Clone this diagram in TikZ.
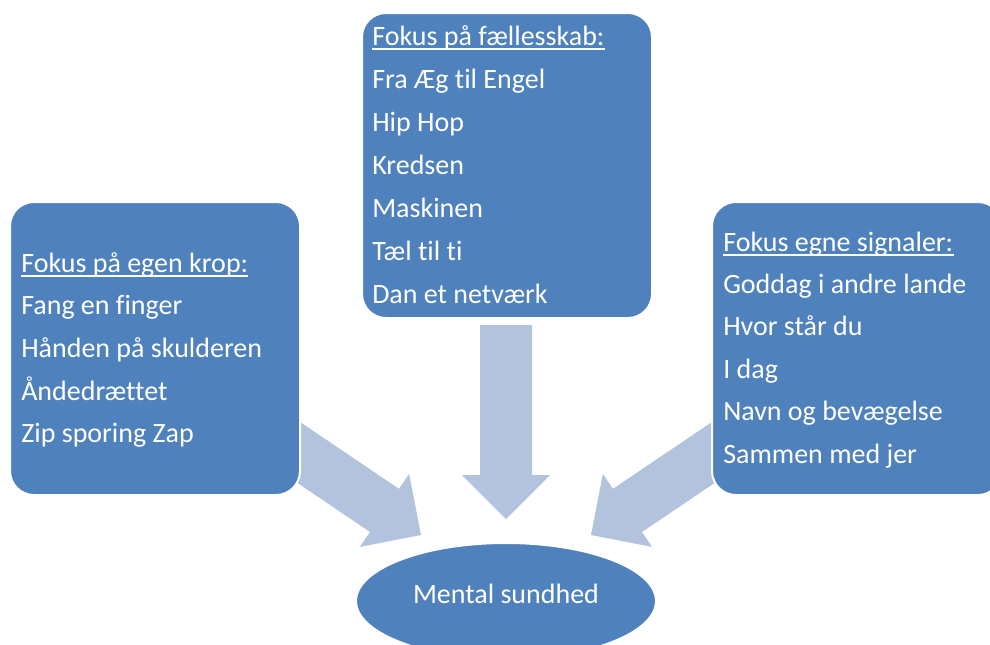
\documentclass[tikz,border=0pt]{standalone}
\usepackage{fontspec}
\setmainfont{Carlito}[Ligatures=NoCommon]
\usetikzlibrary{calc,shapes.geometric}
\definecolor{BoxBlue}{HTML}{4F81BD}
\definecolor{ArrowBlue}{HTML}{B3C2DD}
\newcommand{\BlockArrow}[2]%
% tail, tip
{   \fill[ArrowBlue] let
        \p1 = (#1),
        \p2 = (#2),
        \n1 = {atan2(\y2-\y1,\x2-\x1)},
        \n2 = {veclen(\x2-\x1,\y2-\y1)-33pt}
    in
    (#2) -- ++(\n1+135:46.67pt) -- ++(\n1-90:13.5pt) -- ++(\n1+180:\n2)
    -- ++(\n1-90:39pt) -- ++(\n1:\n2) -- ++(\n1-90:13.5pt) -- cycle;
}
\begin{document}
\begin{tikzpicture}
[   x=0.75pt, y=-0.75pt,
    focusbox/.style={rectangle, rounded corners=18pt, fill=BoxBlue, draw=white,
        line width=1.5pt, minimum width=217.5pt},
    boxtext/.style={text=white, font=\fontsize{21}{25}\selectfont,
        inner sep=0, anchor=base west},
    underl/.style={white, line width=1.1pt}
]
    \useasboundingbox (0,0) rectangle (990,644);
    \clip (0,0) rectangle (990,644);

    % pile ind mod midten
    \coordinate (tailL) at (255,423);
    \coordinate (tipL) at (421,535);
    \coordinate (tailM) at (506,325);
    \coordinate (tipM) at (506,519);
    \coordinate (tailR) at (757,423);
    \coordinate (tipR) at (591,535);
    \BlockArrow{tailL}{tipL}
    \BlockArrow{tailM}{tipM}
    \BlockArrow{tailR}{tipR}

    % kasser
    \node[focusbox, minimum height=219.75pt] (krop) at (155,348.5) {};
    \node[focusbox, minimum height=228.75pt] (faelles) at (507,165.5) {};
    \node[focusbox, minimum height=219.75pt] (signal) at (857,348.5) {};

    % egen krop
    \node[boxtext] (krop0) at (21,272) {Fokus på egen krop:};
    \draw[underl] ([yshift=-3pt]krop0.base west) -- ([yshift=-3pt]krop0.base east);
    \foreach \t [count=\i] in {Fang en finger, Hånden på skulderen,
        Åndedrættet, Zip sporing Zap}
        \node[boxtext] (krop\i) at (21,{272+42.7*\i}) {\t};

    % fællesskab
    \node[boxtext] (faelles0) at (372,45) {Fokus på fællesskab:};
    \draw[underl] ([yshift=-3pt]faelles0.base west) -- ([yshift=-3pt]faelles0.base east);
    \foreach \t [count=\i] in {Fra Æg til Engel, Hip Hop, Kredsen,
        Maskinen, Tæl til ti, Dan et netværk}
        \node[boxtext] (faelles\i) at (372,{45+43*\i}) {\t};

    % egne signaler
    \node[boxtext] (signal0) at (723,251) {Fokus egne signaler:};
    \draw[underl] ([yshift=-3pt]signal0.base west) -- ([yshift=-3pt]signal0.base east);
    \foreach \t [count=\i] in {Goddag i andre lande, Hvor står du, I dag,
        Navn og bevægelse, Sammen med jer}
        \node[boxtext] (signal\i) at (723,{251+42.4*\i}) {\t};

    % midten
    \node[ellipse, fill=BoxBlue, draw=white, line width=1.5pt,
        minimum width=225pt, minimum height=87pt] (sund) at (506,601) {};
    \node[boxtext, anchor=base] (sundtxt) at (506,603) {Mental sundhed};
\end{tikzpicture}
\end{document}
